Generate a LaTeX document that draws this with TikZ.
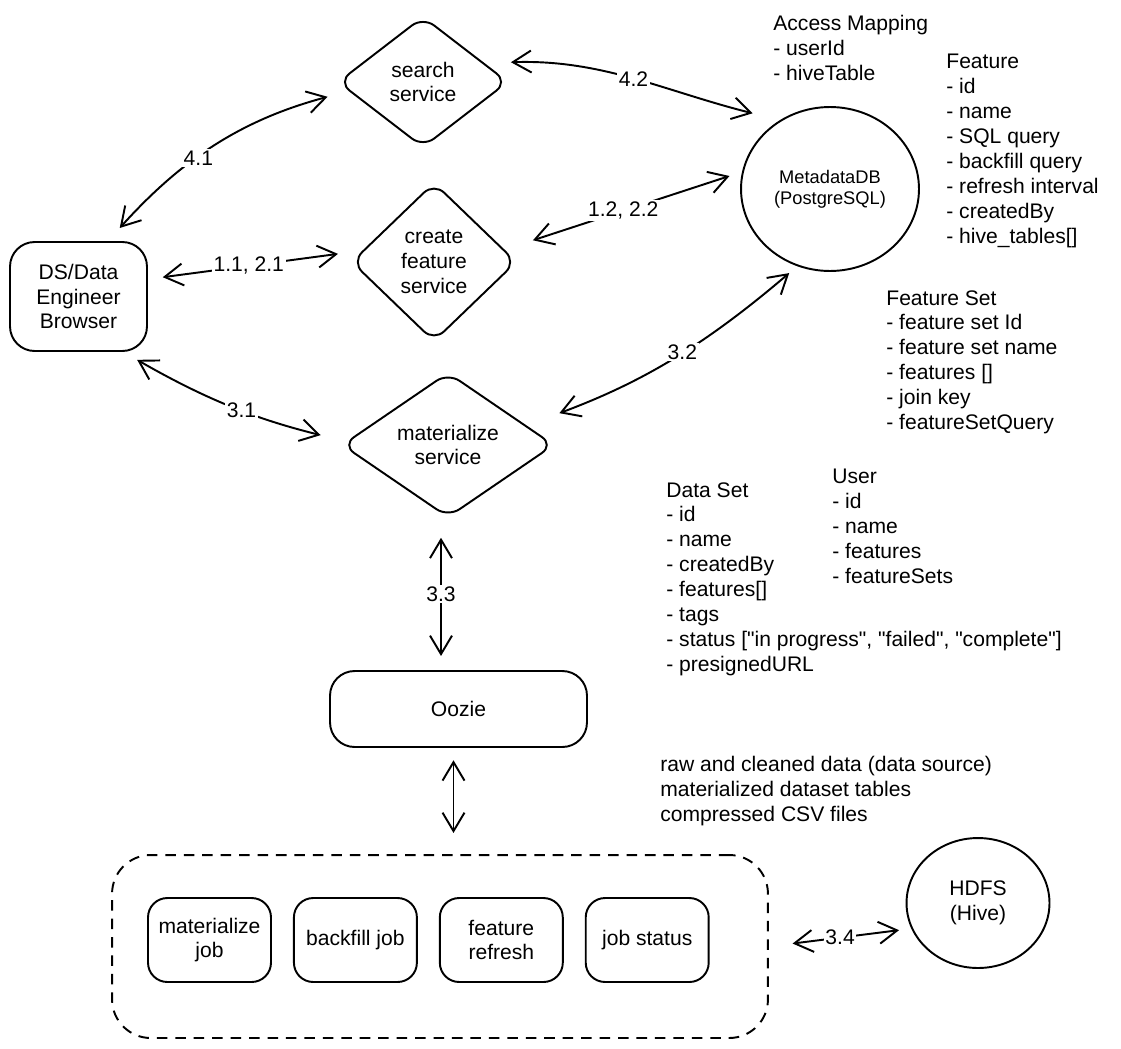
\documentclass[tikz,border=0pt]{standalone}
\usepackage{fontspec}
\setmainfont{Liberation Sans}
\usetikzlibrary{arrows.meta,positioning,shapes.geometric}

\tikzset{
  box/.style={draw, line width=1.1pt, rounded corners=14pt, align=center},
  svc/.style={draw, diamond, line width=1.1pt, rounded corners=8pt, align=center, inner sep=0pt},
  db/.style={draw, ellipse, line width=1.1pt, align=center, inner sep=0pt},
  job/.style={box, rounded corners=11pt, minimum width=2.46cm, minimum height=1.68cm},
  notes/.style={anchor=north west, align=left, inner sep=0pt},
  link/.style={line width=1.1pt, {Straight Barb[length=10.5pt,width=12.5pt]}-{Straight Barb[length=10.5pt,width=12.5pt]}},
  lbl/.style={fill=white, inner sep=1pt}
}

\begin{document}
\begin{tikzpicture}[x=0.02cm, y=0.02cm, font=\fontsize{12}{14.17}\selectfont]
\useasboundingbox (0,0) rectangle (1121,-1048);

% client and services
\node[box, minimum width=2.74cm, minimum height=2.18cm] (ds) at (78.5,-296.5) {DS/Data\\Engineer\\Browser};
\node[svc, minimum width=3.4cm, minimum height=2.62cm] (search) at (423,-82) {search\\service};
\node[svc, minimum width=3.3cm, minimum height=3.18cm] (create) at (434,-262) {create\\feature\\service};
\node[svc, minimum width=4.24cm, minimum height=2.9cm] (mat) at (448,-445) {materialize\\service};
\node[db, minimum width=3.56cm, minimum height=3.28cm, font=\fontsize{10.4}{11.9}\selectfont] (meta) at (830,-189) {MetadataDB\\(PostgreSQL)};

% scheduler and jobs
\node[box, minimum width=5.14cm, minimum height=1.52cm] (oozie) at (458.5,-709) {Oozie};
\node[box, dash pattern=on 6pt off 4.5pt, rounded corners=22pt, minimum width=13.12cm, minimum height=3.66cm] (grp) at (440,-946.5) {};
\node[job] (mjob) at (209.5,-940) {materialize\\job};
\node[job, right=0.42cm of mjob] (bjob) {backfill job};
\node[job, right=0.42cm of bjob] (rjob) {feature\\refresh};
\node[job, right=0.42cm of rjob] (sjob) {job status};
\node[db, minimum width=2.86cm, minimum height=2.6cm] (hdfs) at (978,-903) {HDFS\\(Hive)};

% tables
\node[notes] (access) at (773,-15) {Access Mapping\\- userId\\- hiveTable};
\node[notes] (feat) at (946,-54) {Feature\\- id\\- name\\- SQL query\\- backfill query\\- refresh interval\\- createdBy\\- hive\_tables[]};
\node[notes] (fset) at (886,-290) {Feature Set\\- feature set Id\\- feature set name\\- features []\\- join key\\- featureSetQuery};
\node[notes] (user) at (832,-469) {User\\- id\\- name\\- features\\- featureSets};
\node[notes] (dset) at (666,-482) {Data Set\\- id\\- name\\- createdBy\\- features[]\\- tags\\- status [\textquotedbl in progress\textquotedbl, \textquotedbl failed\textquotedbl, \textquotedbl complete\textquotedbl]\\- presignedURL};
\node[notes] (raw) at (660,-756) {raw and cleaned data (data source)\\materialized dataset tables\\compressed CSV files};

% connectors
\draw[link, shorten <=10pt, shorten >=12.5pt] (ds.62) to[out=48, in=195] node[lbl, pos=0.42] {4.1} (search.187);
\draw[link, shorten <=8.5pt, shorten >=14pt] (ds.14) -- node[lbl, pos=0.47] {1.1, 2.1} (create.171);
\draw[link, shorten <=9pt, shorten >=15pt] (ds.-51) to[bend right=8] node[lbl, pos=0.55] {3.1} (mat.178);
\draw[link, shorten <=15pt, shorten >=16pt] (search.17) to[out=2, in=166] node[lbl, pos=0.5] {4.2} (meta.126);
\draw[link, shorten <=17pt, shorten >=7.5pt] (create.10) -- node[lbl] {1.2, 2.2} (meta.169);
\draw[link, shorten <=20pt, shorten >=6pt] (mat.14) to[bend right=10] node[lbl, pos=0.55] {3.2} (meta.247);
\draw[link, shorten <=11pt, shorten >=8pt] ([xshift=-0.14cm]mat.south) -- node[lbl] {3.3} ([xshift=-0.14cm]mat.south |- oozie.north);
\draw[link, shorten <=7pt, shorten >=12pt] ([xshift=-0.1cm]oozie.south) -- ([xshift=-0.1cm]oozie.south |- grp.north);
\draw[link, shorten <=13.6pt, shorten >=7pt] (grp.east) -- node[lbl] {3.4} (hdfs.201);
\end{tikzpicture}
\end{document}
